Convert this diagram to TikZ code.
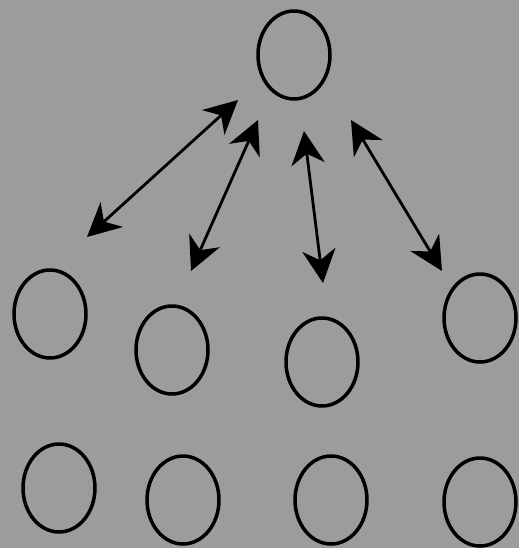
\documentclass[tikz,border=0pt]{standalone}
\usetikzlibrary{shapes.geometric,arrows.meta}

\begin{document}
\begin{tikzpicture}[x=0.02cm,y=-0.02cm,
  cell/.style={draw,ellipse,line width=2pt,inner sep=0pt,
    minimum width=1.44cm,minimum height=1.76cm},
  link/.style={line width=1.6pt,
    {Stealth[length=19pt,width=19pt,inset=6pt]}-{Stealth[length=19pt,width=19pt,inset=6pt]}}]
  \fill[black!39] (0,0) rectangle (519,548);

  % top
  \node[cell] (T) at (294,55) {};
  % middle row
  \node[cell] (M1) at (50,314) {};
  \node[cell] (M2) at (172,350) {};
  \node[cell] (M3) at (322,362) {};
  \node[cell] (M4) at (480,318) {};
  % bottom row
  \node[cell] (B1) at (59,488) {};
  \node[cell] (B2) at (183,500) {};
  \node[cell] (B3) at (331,500) {};
  \node[cell] (B4) at (480,502) {};

  \coordinate (t1) at (238,100); \coordinate (m1) at (87,237);
  \coordinate (t2) at (258,120); \coordinate (m2) at (191,271);
  \coordinate (t3) at (304,131); \coordinate (m3) at (323,283);
  \coordinate (t4) at (351,120); \coordinate (m4) at (442,271);

  \draw[link] (t1) -- (m1);
  \draw[link] (t2) -- (m2);
  \draw[link] (t3) -- (m3);
  \draw[link] (t4) -- (m4);
\end{tikzpicture}
\end{document}
